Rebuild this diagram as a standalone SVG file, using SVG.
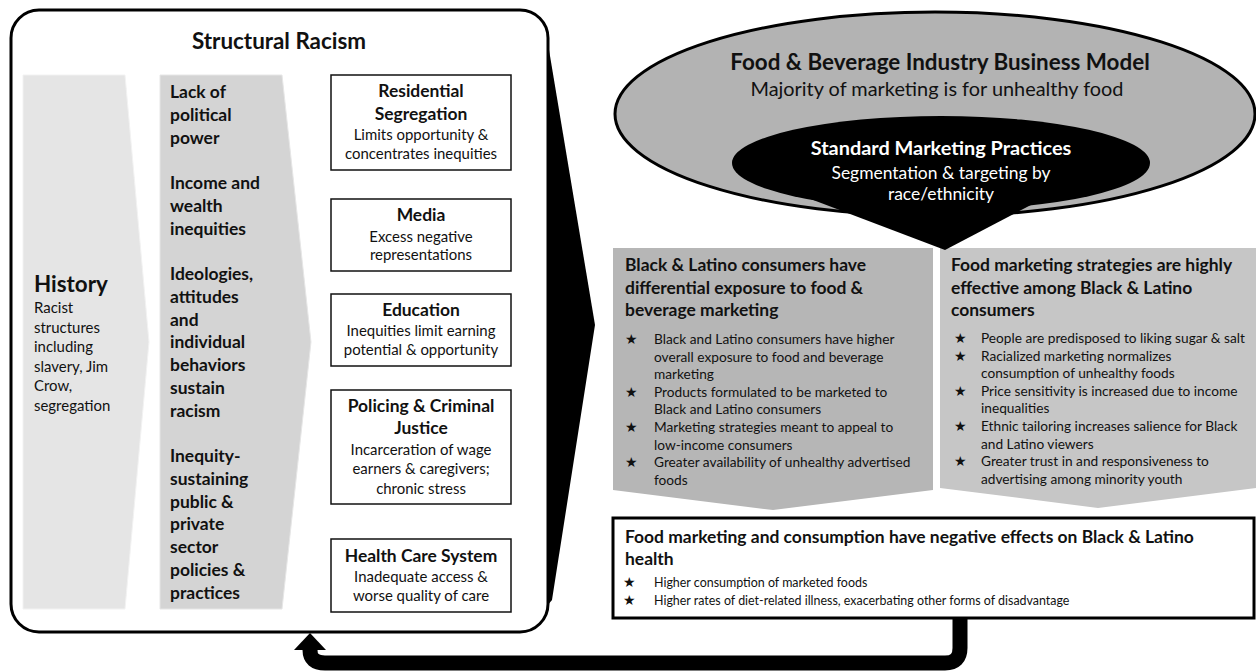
<svg xmlns="http://www.w3.org/2000/svg" width="1256" height="671" viewBox="0 0 1256 671">
  <style>
    text { font-family: Lato, "Liberation Sans", sans-serif; fill: #111; }
    .b { font-weight: 700; }
    .c { text-anchor: middle; }
    .f24 { font-size: 22.4px; }
    .f21 { font-size: 19.9px; }
    .f19 { font-size: 17.45px; }
    .f16 { font-size: 14.95px; }
    .f15 { font-size: 13.7px; }
    .f13 { font-size: 12.45px; }
    .w { fill: #fff; }
    .star { font-family: "DejaVu Sans", sans-serif; font-size: 14px; fill: #111; }
    .box { fill: #fff; stroke: #111; stroke-width: 1.5; }
    .thick { fill: #fff; stroke: #000; stroke-width: 3; }
  </style>
  <defs>
    <marker id="head" viewBox="0 0 17 32" refX="0" refY="16" markerWidth="17" markerHeight="32" markerUnits="userSpaceOnUse" orient="auto">
      <path d="M0,0 L17,16 L0,32 Z" fill="#000"/>
    </marker>
  </defs>
  <rect width="1256" height="671" fill="#fff"/>

  <!-- Structural racism callout -->
  <g id="structural-racism">
    <rect class="thick" x="11" y="10" width="537" height="622" rx="28"/>
    <polygon points="547,38 595,325 552,600 547,606" fill="#000"/>
    <text class="b c f24" x="279" y="49">Structural Racism</text>
  </g>

  <g id="history">
    <polygon points="23,75 125,75 149,342 125,609 23,609" fill="#e5e5e5" stroke="#f2f2f2" stroke-width="1"/>
    <text class="b f24" x="34" y="292">History</text>
    <text class="f16" x="34" y="313">Racist</text>
    <text class="f16" x="34" y="332.5">structures</text>
    <text class="f16" x="34" y="352">including</text>
    <text class="f16" x="34" y="371.5">slavery, Jim</text>
    <text class="f16" x="34" y="391">Crow,</text>
    <text class="f16" x="34" y="410.5">segregation</text>
  </g>

  <g id="mechanisms">
    <polygon points="160,75 282,75 311,342 282,609 160,609" fill="#d4d4d4" stroke="#e6e6e6" stroke-width="1"/>
    <text class="b f19" x="170" y="98">Lack of</text>
    <text class="b f19" x="170" y="120.75">political</text>
    <text class="b f19" x="170" y="143.5">power</text>
    <text class="b f19" x="170" y="189">Income and</text>
    <text class="b f19" x="170" y="211.75">wealth</text>
    <text class="b f19" x="170" y="234.5">inequities</text>
    <text class="b f19" x="170" y="280">Ideologies,</text>
    <text class="b f19" x="170" y="302.75">attitudes</text>
    <text class="b f19" x="170" y="325.5">and</text>
    <text class="b f19" x="170" y="348.25">individual</text>
    <text class="b f19" x="170" y="371">behaviors</text>
    <text class="b f19" x="170" y="393.75">sustain</text>
    <text class="b f19" x="170" y="416.5">racism</text>
    <text class="b f19" x="170" y="462">Inequity-</text>
    <text class="b f19" x="170" y="484.75">sustaining</text>
    <text class="b f19" x="170" y="507.5">public &amp;</text>
    <text class="b f19" x="170" y="530.25">private</text>
    <text class="b f19" x="170" y="553">sector</text>
    <text class="b f19" x="170" y="575.75">policies &amp;</text>
    <text class="b f19" x="170" y="598.5">practices</text>
  </g>

  <g id="residential-segregation">
    <rect class="box" x="331" y="75" width="180" height="95"/>
    <text class="b c f19" x="421" y="97">Residential</text>
    <text class="b c f19" x="421" y="120">Segregation</text>
    <text class="c f16" x="421" y="140">Limits opportunity &amp;</text>
    <text class="c f16" x="421" y="159">concentrates inequities</text>
  </g>

  <g id="media">
    <rect class="box" x="331" y="199" width="180" height="72"/>
    <text class="b c f19" x="421" y="221">Media</text>
    <text class="c f16" x="421" y="242">Excess negative</text>
    <text class="c f16" x="421" y="260">representations</text>
  </g>

  <g id="education">
    <rect class="box" x="331" y="294" width="180" height="72"/>
    <text class="b c f19" x="421" y="316">Education</text>
    <text class="c f16" x="421" y="336">Inequities limit earning</text>
    <text class="c f16" x="421" y="355">potential &amp; opportunity</text>
  </g>

  <g id="policing">
    <rect class="box" x="331" y="390" width="180" height="114"/>
    <text class="b c f19" x="421" y="412">Policing &amp; Criminal</text>
    <text class="b c f19" x="421" y="434">Justice</text>
    <text class="c f16" x="421" y="455">Incarceration of wage</text>
    <text class="c f16" x="421" y="474">earners &amp; caregivers;</text>
    <text class="c f16" x="421" y="494">chronic stress</text>
  </g>

  <g id="health-care">
    <rect class="box" x="331" y="539" width="180" height="73"/>
    <text class="b c f19" x="421" y="562">Health Care System</text>
    <text class="c f16" x="421" y="582">Inadequate access &amp;</text>
    <text class="c f16" x="421" y="601">worse quality of care</text>
  </g>

  <!-- Industry business model ellipse -->
  <g id="industry-model">
    <ellipse cx="935" cy="114" rx="320" ry="102" fill="#b3b3b3" stroke="#000" stroke-width="3"/>
    <text class="b c f24" x="940" y="70">Food &amp; Beverage Industry Business Model</text>
    <text class="c f21" x="937" y="96">Majority of marketing is for unhealthy food</text>
  </g>

  <g id="differential-exposure">
    <path d="M613,248 H933 V490 L773,510 L613,490 Z" fill="#b6b6b6"/>
    <text class="b f19" x="625" y="271">Black &amp; Latino consumers have</text>
    <text class="b f19" x="625" y="294">differential exposure to food &amp;</text>
    <text class="b f19" x="625" y="316">beverage marketing</text>
    <text class="star" x="625" y="344">★</text>
    <text class="f15" x="654" y="344">Black and Latino consumers have higher</text>
    <text class="f15" x="654" y="361.6">overall exposure to food and beverage</text>
    <text class="f15" x="654" y="379.2">marketing</text>
    <text class="star" x="625" y="396.8">★</text>
    <text class="f15" x="654" y="396.8">Products formulated to be marketed to</text>
    <text class="f15" x="654" y="414.4">Black and Latino consumers</text>
    <text class="star" x="625" y="432">★</text>
    <text class="f15" x="654" y="432">Marketing strategies meant to appeal to</text>
    <text class="f15" x="654" y="449.6">low-income consumers</text>
    <text class="star" x="625" y="467.2">★</text>
    <text class="f15" x="654" y="467.2">Greater availability of unhealthy advertised</text>
    <text class="f15" x="654" y="484.8">foods</text>
  </g>

  <g id="effective-strategies">
    <path d="M940,248 H1256 V488 L1098,508 L940,488 Z" fill="#c6c6c6"/>
    <text class="b f19" x="951" y="271">Food marketing strategies are highly</text>
    <text class="b f19" x="951" y="294">effective among Black &amp; Latino</text>
    <text class="b f19" x="951" y="316">consumers</text>
    <text class="star" x="954" y="343">★</text>
    <text class="f15" x="981" y="343">People are predisposed to liking sugar &amp; salt</text>
    <text class="star" x="954" y="360.6">★</text>
    <text class="f15" x="981" y="360.6">Racialized marketing normalizes</text>
    <text class="f15" x="981" y="378.2">consumption of unhealthy foods</text>
    <text class="star" x="954" y="395.8">★</text>
    <text class="f15" x="981" y="395.8">Price sensitivity is increased due to income</text>
    <text class="f15" x="981" y="413.4">inequalities</text>
    <text class="star" x="954" y="431">★</text>
    <text class="f15" x="981" y="431">Ethnic tailoring increases salience for Black</text>
    <text class="f15" x="981" y="448.6">and Latino viewers</text>
    <text class="star" x="954" y="466.2">★</text>
    <text class="f15" x="981" y="466.2">Greater trust in and responsiveness to</text>
    <text class="f15" x="981" y="483.8">advertising among minority youth</text>
  </g>

  <!-- Standard marketing practices callout, pointing down to the two effect boxes -->
  <g id="marketing-practices">
    <ellipse cx="941" cy="163" rx="209" ry="47" fill="#000"/>
    <polygon points="800,195 945,250 1050,195" fill="#000"/>
    <text class="b c f21 w" x="941" y="155">Standard Marketing Practices</text>
    <text class="c f19 w" x="941" y="179">Segmentation &amp; targeting by</text>
    <text class="c f19 w" x="941" y="200">race/ethnicity</text>
  </g>

  <g id="health-effects">
    <rect class="thick" x="613" y="518" width="641" height="100"/>
    <text class="b f19" x="625" y="543">Food marketing and consumption have negative effects on Black &amp; Latino</text>
    <text class="b f19" x="625" y="565">health</text>
    <text class="star" x="623" y="587">★</text>
    <text class="f13" x="654" y="587">Higher consumption of marketed foods</text>
    <text class="star" x="623" y="605">★</text>
    <text class="f13" x="654" y="605">Higher rates of diet-related illness, exacerbating other forms of disadvantage</text>
  </g>

  <!-- Feedback loop back to structural racism -->
  <g id="connectors">
    <path d="M960,617 V648 Q960,663 945,663 H325 Q310,663 310,650" fill="none" stroke="#000" stroke-width="15" marker-end="url(#head)"/>
  </g>
</svg>
